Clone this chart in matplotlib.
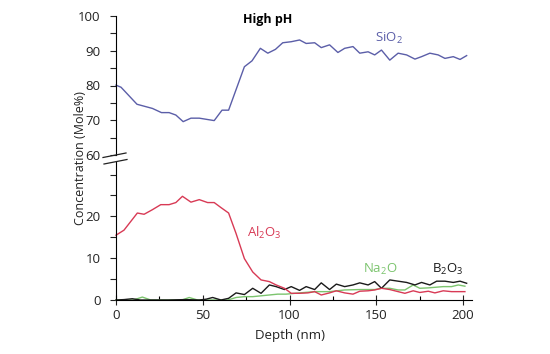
import matplotlib
matplotlib.use("Agg")
import matplotlib.pyplot as plt
from matplotlib.lines import Line2D
from matplotlib.ticker import MultipleLocator

plt.rcParams['font.family'] = ['Open Sans', 'DejaVu Sans']
plt.rcParams['mathtext.fontset'] = 'custom'
plt.rcParams['mathtext.rm'] = 'Open Sans'
plt.rcParams['mathtext.it'] = 'Open Sans:italic'
plt.rcParams['mathtext.bf'] = 'Open Sans:bold'

# ---- data ----
sio2_depth = [0, 2.9, 12.1, 21, 26.2, 30.6, 34.5, 38.7, 43.2, 48, 56.6, 61.1, 64.9, 74, 78.4,
              83.2, 87.5, 91.9, 96.1, 101, 105.8, 109.6, 114.5, 118.3, 123.1, 127.9, 131.8,
              136.6, 140.5, 145.3, 149.1, 153, 157.8, 162.6, 167.5, 172.3, 176.1, 180.9,
              185.7, 189.6, 194.4, 198.3, 202.1]
sio2 = [80.1, 79.5, 74.6, 73.4, 72.2, 72.2, 71.5, 69.6, 70.6, 70.6, 69.9, 72.9, 72.9, 85.4, 87.1,
        90.7, 89.3, 90.4, 92.3, 92.6, 93.1, 92.1, 92.3, 90.9, 91.7, 89.5, 90.7,
        91.2, 89.3, 89.7, 88.8, 90.2, 87.3, 89.3, 88.8, 87.6, 88.3, 89.3,
        88.8, 87.8, 88.3, 87.5, 88.6]

al_depth = [0, 4.6, 12.3, 16.2, 21, 25.8, 30.6, 34.5, 38.3, 43.2, 48, 52.8, 56.6, 60.5, 64.9,
            69.2, 74, 78.8, 83.6, 88.4, 92.3, 97.1, 101, 105.8, 110.6, 114.5, 118.3, 123.1,
            127, 131.8, 136.6, 140.5, 145.3, 149.1, 153, 157.8, 162.6, 166.5, 171.3, 175.1,
            180, 183.8, 188.6, 193.4, 197.3, 201.1]
al2o3 = [15.5, 16.7, 20.8, 20.5, 21.6, 22.8, 22.8, 23.3, 24.8, 23.4, 24.0, 23.3, 23.3, 22.1, 20.8,
         15.9, 9.9, 6.7, 4.8, 4.4, 3.6, 2.8, 1.6, 1.6, 1.7, 2.0, 1.2, 1.7,
         2.2, 1.7, 1.4, 2.1, 2.2, 2.4, 2.8, 2.5, 2.0, 1.6, 2.2, 1.8,
         2.1, 1.7, 2.2, 2.0, 2.0, 2.0]

b_depth = [0, 4.6, 9.4, 14, 19.1, 30, 40, 48, 52, 55.7, 60.5, 64.9, 69.2, 74, 78.8, 83.6, 88.4,
           92.3, 97.1, 101, 105.8, 109.6, 114.5, 118.3, 123.1, 127, 131.8, 136.6, 140.5,
           145.3, 149.1, 153, 157.8, 162.6, 167.5, 172.3, 176.1, 180.9, 184.8, 189.6,
           194.4, 198.3, 202.1]
b2o3 = [0, 0.1, 0.3, 0, 0, 0, 0.1, 0, 0.2, 0.6, 0, 0.4, 1.7, 1.3, 2.8, 1.6, 3.6,
        3.2, 2.5, 3.2, 2.3, 3.2, 2.5, 4.1, 2.5, 3.8, 3.2, 3.6, 4.1,
        3.6, 4.4, 2.8, 4.8, 4.5, 4.2, 3.6, 4.2, 3.6, 4.5, 4.5,
        4.2, 4.5, 4.0]

na_depth = [0, 10, 15.2, 20, 38, 42.2, 47, 64.4, 69.2, 74, 78.8, 83.6, 88.4, 93.2, 98, 105.8,
            114.5, 123.1, 131.8, 140.5, 149.1, 153, 157.8, 162.6, 166.5, 171.3, 175.1, 180,
            188.6, 193.4, 197.3, 201.1]
na2o = [0, 0, 0.7, 0, 0, 0.6, 0, 0, 0.6, 0.8, 0.8, 1.0, 1.2, 1.4, 1.4, 1.7,
        2.0, 2.0, 2.4, 2.5, 2.5, 2.8, 2.8, 2.4, 2.4, 3.6, 2.8, 2.9,
        3.2, 3.2, 3.6, 3.3]

xticks = [0, 50, 100, 150, 200]
top_yticks = [60, 70, 80, 90, 100]
bot_yticks = [0, 10, 20]

c_si = '#5b5ea8'
c_al = '#d83a55'
c_na = '#7cc46e'
c_b = '#1a1a1a'

W, H = 550, 354
fig = plt.figure(figsize=(5.5, 3.54), dpi=100)

def fx(px):
    return px / W

def fy(py):
    return 1 - py / H

x0, x1 = 116, 116 + 205 * 1.735
ax_top = fig.add_axes([fx(x0), fy(155), fx(x1) - fx(x0), fy(16) - fy(155)])
ax_bot = fig.add_axes([fx(x0), fy(300), fx(x1) - fx(x0), fy(162) - fy(300)])

for ax in (ax_top, ax_bot):
    ax.set_xlim(0, 205)
    ax.spines['top'].set_visible(False)
    ax.spines['right'].set_visible(False)
    ax.patch.set_alpha(0)
    ax.yaxis.set_minor_locator(MultipleLocator(5))
    ax.tick_params(axis='y', which='both', direction='out', length=4, width=0.8,
                   labelsize=9.5, pad=7, colors='#222222')

ax_top.set_ylim(60, 100)
ax_top.set_yticks(top_yticks)
ax_top.spines['bottom'].set_visible(False)
ax_top.tick_params(axis='x', which='both', bottom=False, labelbottom=False)

ax_bot.set_ylim(0, 33)
ax_bot.set_yticks(bot_yticks)
ax_bot.set_xticks(xticks)
ax_bot.xaxis.set_minor_locator(MultipleLocator(25))
ax_bot.tick_params(axis='x', which='major', direction='inout', length=7, width=0.8,
                   labelsize=9.5, pad=3, colors='#222222')
ax_bot.tick_params(axis='x', which='minor', direction='in', length=3, width=0.8)

ax_top.plot(sio2_depth, sio2, color=c_si, lw=1.0, clip_on=False)
ax_bot.plot(na_depth, na2o, color=c_na, lw=1.0, clip_on=False)
ax_bot.plot(b_depth, b2o3, color=c_b, lw=1.0, clip_on=False)
ax_bot.plot(al_depth, al2o3, color=c_al, lw=1.0, clip_on=False)

# labels
ax_top.text(87.6, 99.1, 'High pH', ha='center', va='center', fontsize=9, fontweight='bold')
ax_top.text(149.3, 93.4, r'SiO$_\mathregular{2}$', ha='left', va='center', fontsize=9.5, color=c_si)
ax_bot.text(75.5, 16.0, r'Al$_\mathregular{2}$O$_\mathregular{3}$', ha='left', va='center', fontsize=9.5, color=c_al)
ax_bot.text(142.4, 7.4, r'Na$_\mathregular{2}$O', ha='left', va='center', fontsize=9.5, color=c_na)
ax_bot.text(182.1, 7.4, r'B$_\mathregular{2}$O$_\mathregular{3}$', ha='left', va='center', fontsize=9.5, color=c_b)

fig.text(fx(80), fy(158), 'Concentration (Mole%)', rotation=90, ha='center', va='center',
         fontsize=9, color='#222222')
fig.text(fx(290), fy(336), 'Depth (nm)', ha='center', va='center', fontsize=9.5, color='#222222')

# axis break marks
for (a, b, c, d) in [(103, 157.5, 126, 153), (104, 164, 127, 159.5)]:
    fig.add_artist(Line2D([fx(a), fx(c)], [fy(b), fy(d)], color='#222222', lw=0.9))

fig.savefig('out.png', dpi=100)
